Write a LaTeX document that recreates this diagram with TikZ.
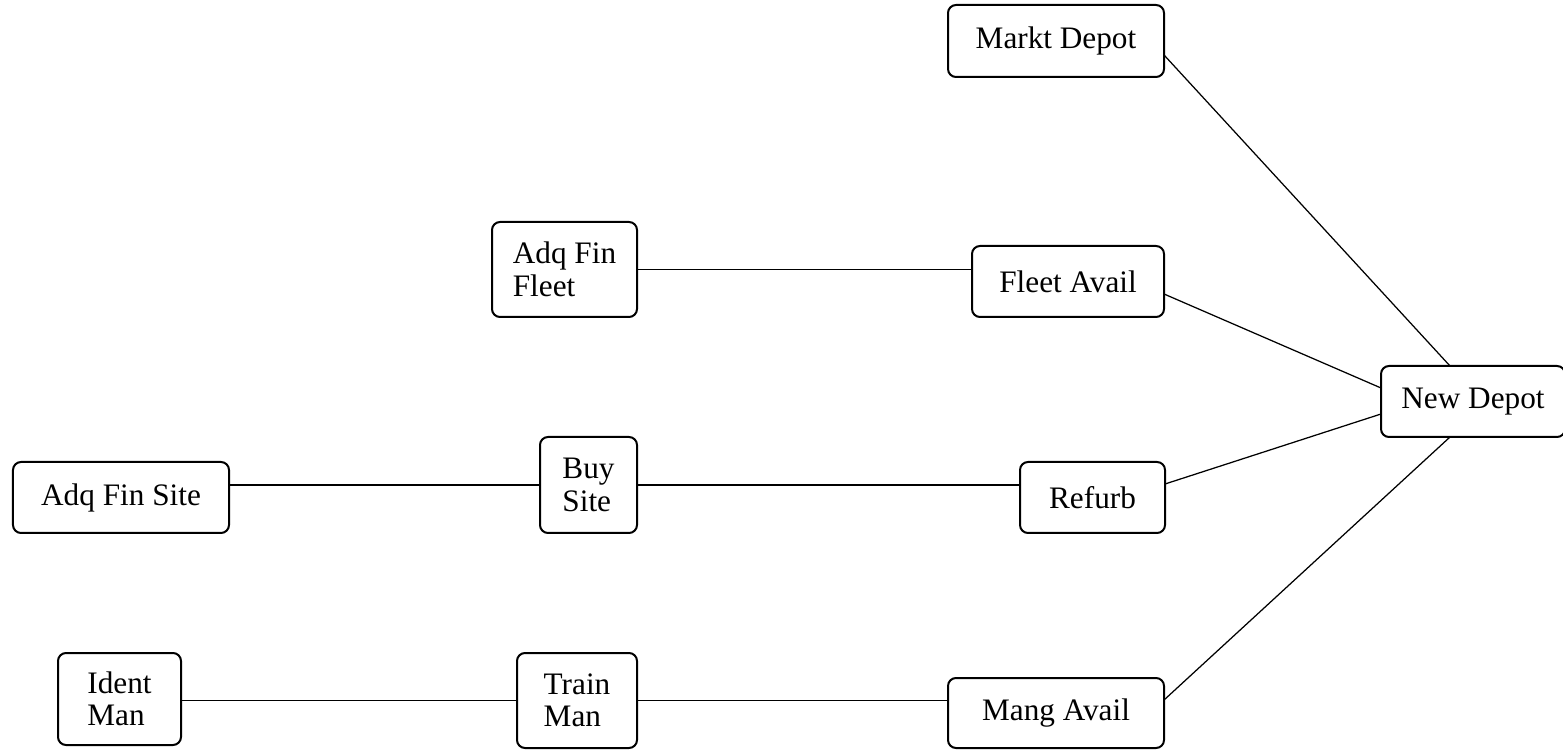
\documentclass[tikz,border=0pt]{standalone}
\usepackage{fontspec}
\setmainfont{Liberation Serif}
\usetikzlibrary{calc}

\begin{document}
\begin{tikzpicture}[
            x=0.4pt,
            y=-0.4pt,
            box/.style={draw, line width=0.8pt, rounded corners=3.2pt, inner sep=2pt, outer sep=0pt,
                        align=left, font=\fontsize{12.5}{13}\selectfont},
            link/.style={line width=0.5pt}
        ]

            % --- Frame ---
            \useasboundingbox (0,0) rectangle (1563,750);

            % --- Nodes ---
            \node[box, minimum width=86.4pt, minimum height=28.8pt] (markt) at (1056,41) {Markt Depot};
            \node[box, minimum width=76.8pt, minimum height=28.4pt] (fleet) at (1068,281.5) {Fleet Avail};
            \node[box, minimum width=58pt, minimum height=38pt] (adqfleet) at (564.5,269.5) {Adq Fin\\Fleet};
            \node[box, minimum width=73.6pt, minimum height=28.4pt] (newdepot) at (1473,401.5) {New Depot};

            \node[box, minimum width=86.4pt, minimum height=28.4pt] (adqsite) at (121,497.5) {Adq Fin Site};
            \node[box, minimum width=38.8pt, minimum height=38.4pt] (buysite) at (588.5,485) {Buy\\Site};
            \node[box, minimum width=58pt, minimum height=28.4pt] (refurb) at (1092.5,497.5) {Refurb};

            \node[box, minimum width=49.2pt, minimum height=36.8pt] (identman) at (119.5,699) {Ident\\Man};
            \node[box, minimum width=48pt, minimum height=38pt] (trainman) at (577,700.5) {Train\\Man};
            \node[box, minimum width=86.4pt, minimum height=28pt] (mangavail) at (1056,713) {Mang Avail};

            % --- Horizontal chains ---
            \draw[link] (adqfleet.east) -- (adqfleet.east -| fleet.west);
            \draw[link] (buysite.west -| adqsite.east) -- (buysite.west);
            \draw[link] (buysite.east) -- (buysite.east -| refurb.west);
            \draw[link] (trainman.west -| identman.east) -- (trainman.west);
            \draw[link] (trainman.east) -- (trainman.east -| mangavail.west);

            % --- Links into New Depot ---
            \draw[link] (markt.east |- 0,55) -- (newdepot.north -| 1450,0);
            \draw[link] (fleet.east |- 0,294) -- (newdepot.west |- 0,388);
            \draw[link] (refurb.east |- 0,484) -- (newdepot.west |- 0,414);
            \draw[link] (mangavail.east |- 0,700) -- (newdepot.south -| 1450,0);

        \end{tikzpicture}
\end{document}
